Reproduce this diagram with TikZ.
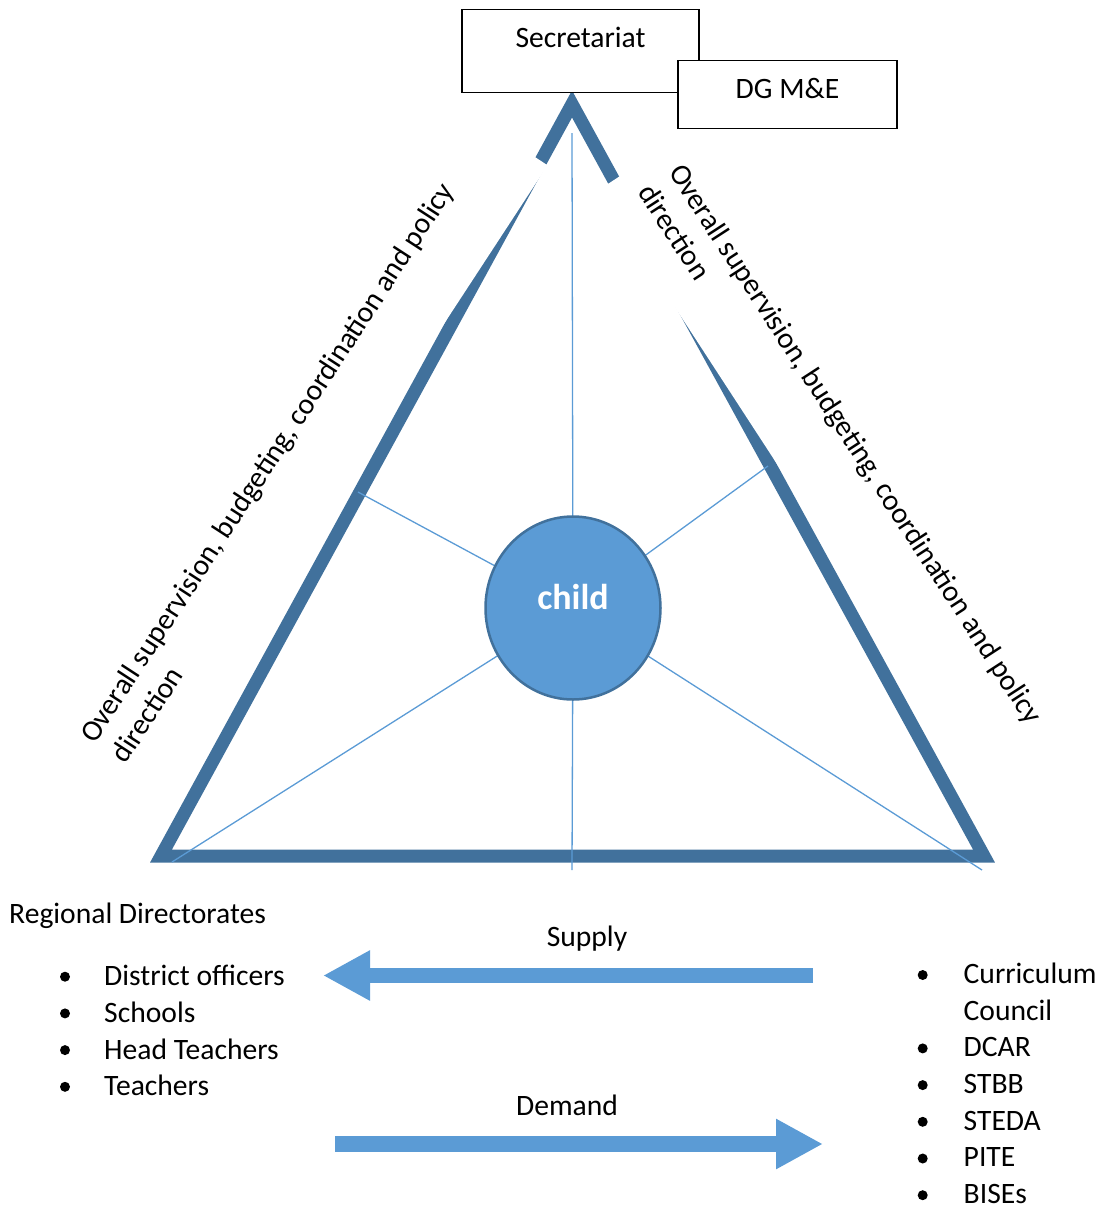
\documentclass[tikz,border=0pt]{standalone}
\usepackage{fontspec}
\setmainfont{Carlito}
\usetikzlibrary{arrows.meta,shapes.geometric}

\definecolor{frame}{HTML}{41719C}
\definecolor{accent}{HTML}{5B9BD5}

\tikzset{
  edge/.style={draw=frame,line width=13pt,line join=miter},
  spoke/.style={draw=accent,line width=1.3pt},
  orgbox/.style={draw=black,line width=1.2pt,fill=white,inner sep=0pt},
  txt/.style={inner sep=0pt,font=\fontsize{29.6}{36.7}\selectfont},
  flow/.style={draw=accent,line width=15.6pt,-{Triangle[length=47pt,width=47pt]}},
}

\begin{document}
\begin{tikzpicture}[x=1pt,y=-1pt]
\path[use as bounding box] (0,0) rectangle (1099,1211);

% triangle
\coordinate (apex) at (572,104);
\coordinate (bl) at (161,856);
\coordinate (br) at (984,856);
\draw[edge] (apex) -- (bl) -- (br) -- cycle;

% white text boxes cutting the sides
\fill[white] (547.6,165.3) -- (383.5,416.4) -- (333.3,383.6) -- (497.4,132.5) -- cycle;
\fill[white] (598.6,190) -- (871.4,609) -- (921.7,576.3) -- (648.9,157.3) -- cycle;

% spokes
\coordinate (c) at (573,608);
\coordinate (sp1) at (572,133);
\coordinate (sp2) at (358,492);
\coordinate (sp3) at (768,466);
\coordinate (sp4) at (172,862);
\coordinate (sp5) at (982,870);
\coordinate (sp6) at (572,870);
\foreach \s in {1,...,6}
  \draw[spoke] (sp\s) -- (c);

\node (child) [ellipse,draw=frame,line width=2.5pt,fill=accent,minimum width=175pt,minimum height=183pt,
  inner sep=0pt,text=white,font=\bfseries\fontsize{36}{43}\selectfont,text height=25pt,text depth=23pt] at (c) {child};

% side labels (base = last line)
\node (lefttext) [txt,align=left,rotate=57,anchor=base west] at (125.8,765)
  {Overall supervision, budgeting, coordination and policy\\direction};
\node (righttext) [txt,align=left,rotate=-57,anchor=base west] at (637.2,192)
  {Overall supervision, budgeting, coordination and policy\\direction};

% top boxes
\node (sec) [orgbox,txt,minimum width=237pt,text height=37.7pt,text depth=45.3pt,anchor=north] at (580.5,9) {Secretariat};
\node (dg) [orgbox,txt,minimum width=219pt,text height=38.3pt,text depth=29.7pt,anchor=north] at (787.5,60) {DG M\&E};

% supply and demand
\node (supply) [txt,anchor=base] at (587,946) {Supply};
\coordinate (sup1) at (813,975.5);
\coordinate (sup2) at (323,975.5);
\draw[flow] (sup1) -- (sup2);
\node (demand) [txt,anchor=base] at (567,1115) {Demand};
\coordinate (dem1) at (335,1144);
\coordinate (dem2) at (823,1144);
\draw[flow] (dem1) -- (dem2);

% left list
\node (rd) [txt,anchor=base west] at (9,923.3) {Regional Directorates};
\foreach \entry [count=\i from 0] in {District officers,Schools,Head Teachers,Teachers} {
  \fill (65,{976.7+36.7*\i}) circle (5pt);
  \node (rd-\i) [txt,anchor=base west] at (104,{985.7+36.7*\i}) {\entry};
}

% right list
\node (cc) [txt,align=left,anchor=base west] at (963.5,1020) {Curriculum\\Council};
\fill (922.7,975) circle (5pt);
\foreach \entry/\row in {DCAR/2,STBB/3,STEDA/4,PITE/5,BISEs/6} {
  \fill (922.7,{975+36.7*\row}) circle (5pt);
  \node (agency-\row) [txt,anchor=base west] at (963.5,{983.3+36.7*\row}) {\entry};
}
\end{tikzpicture}
\end{document}
